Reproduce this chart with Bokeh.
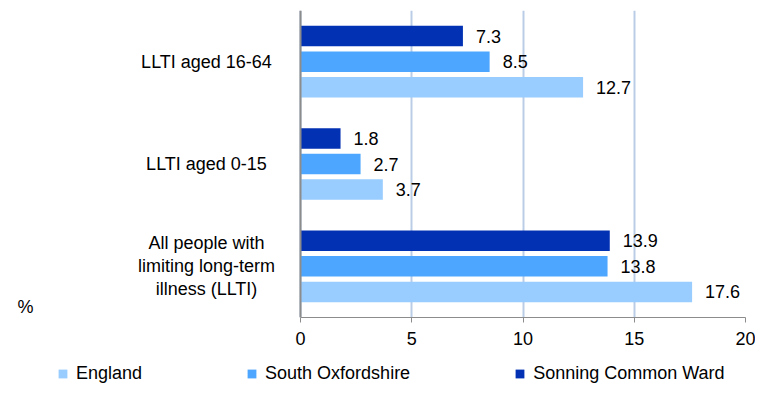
from bokeh.plotting import figure
from bokeh.layouts import column
from bokeh.models import (ColumnDataSource, Range1d, FactorRange, FixedTicker, Legend, LegendItem,
                          Span, Label)
from bokeh.transform import dodge
from bokeh.core.properties import value
from bokeh.embed import file_html
from bokeh.resources import INLINE

categories = ["All people with\nlimiting long-term\nillness (LLTI)", "LLTI aged 0-15", "LLTI aged 16-64"]
england = [17.6, 3.7, 12.7]
south_oxfordshire = [13.8, 2.7, 8.5]
sonning_common = [13.9, 1.8, 7.3]
series_names = ["England", "South Oxfordshire", "Sonning Common Ward"]
colors = ["#99CCFF", "#4DA6FF", "#0231B3"]
x_ticks = [0, 5, 10, 15, 20]
unit_label = "%"

FONT = "Liberation Sans"
W = 755
AXIS_PX = 300          # pixel position of the value axis (x = 0)
FRAME_RIGHT = 745      # pixel position of x = 20
x_max = x_ticks[-1]
x_min = -x_max * AXIS_PX / (FRAME_RIGHT - AXIS_PX)   # room on the left for category labels

src = ColumnDataSource(dict(
    cat=categories,
    england=england,
    so=south_oxfordshire,
    sc=sonning_common,
    england_lbl=[f"{v:.1f}" for v in england],
    so_lbl=[f"{v:.1f}" for v in south_oxfordshire],
    sc_lbl=[f"{v:.1f}" for v in sonning_common],
))

p = figure(width=W, height=352, output_backend="svg", toolbar_location=None,
           x_range=Range1d(x_min, x_max), y_range=FactorRange(factors=categories, range_padding=0),
           y_axis_location=None,
           min_border_left=0, min_border_right=W - FRAME_RIGHT, min_border_top=10, min_border_bottom=35)
p.outline_line_color = None
p.background_fill_color = "white"

offsets = [-0.25, 0.0, 0.25]
fields = ["england", "so", "sc"]
for f, off, c in zip(fields, offsets, colors):
    p.hbar(y=dodge("cat", off, range=p.y_range), right=f, left=0, height=0.2,
           source=src, fill_color=c, line_color=None)
    p.text(x=f, y=dodge("cat", off, range=p.y_range), text=f + "_lbl", source=src,
           x_offset=13, text_baseline="middle", text_align="left",
           text_font=value(FONT), text_font_size="18px", text_color="#000000")

# category labels, centred to the left of the value axis
p.text(x=0, y="cat", text="cat", source=src, x_offset=-94,
       text_align="center", text_baseline="middle", text_line_height=1.15,
       text_font=value(FONT), text_font_size="18px", text_color="#000000")

# x axis
p.xaxis.ticker = FixedTicker(ticks=x_ticks)
p.xaxis.bounds = (x_ticks[0], x_ticks[-1])
p.xaxis.minor_tick_line_color = None
p.xaxis.major_tick_in = 0
p.xaxis.major_tick_out = 5
p.xaxis.axis_line_color = "#8C8C8C"
p.xaxis.major_tick_line_color = "#8C8C8C"
p.xaxis.major_label_text_font = FONT
p.xaxis.major_label_text_font_size = "18px"
p.xaxis.major_label_text_color = "#000000"
p.xaxis.major_label_standoff = 9

p.ygrid.grid_line_color = None
p.xgrid.grid_line_color = "#BBCDE6"
p.xgrid.grid_line_width = 2

# vertical category axis line at x = 0
p.add_layout(Span(location=0, dimension="height", line_color="#8C8C8C", line_width=2))

# unit label
p.add_layout(Label(x=25, y=1, x_units="screen", y_units="screen", text=unit_label,
                   text_font=FONT, text_font_size="18px", text_align="center",
                   text_baseline="bottom", text_color="#000000"))

# legend strip (its zero-height bars lie outside the visible range; only the legend shows)
q = figure(width=W, height=32, output_backend="svg", toolbar_location=None,
           x_range=Range1d(2 * x_max, 3 * x_max), y_range=FactorRange(factors=categories),
           x_axis_location=None, y_axis_location=None,
           min_border_left=0, min_border_right=0, min_border_top=0, min_border_bottom=0)
q.outline_line_color = None
q.xgrid.visible = False
q.ygrid.visible = False
legend_renderers = [q.hbar(y="cat", right=f, left=0, height=0, source=src,
                           fill_color=c, line_color=None) for f, c in zip(fields, colors)]
legend = Legend(items=[LegendItem(label=n, renderers=[r]) for n, r in zip(series_names, legend_renderers)],
                orientation="horizontal", location=(57, 0),
                glyph_width=11, glyph_height=11, label_standoff=8, spacing=104,
                padding=0, margin=0, border_line_color=None, background_fill_alpha=0,
                label_text_font=FONT, label_text_font_size="18px", label_text_color="#000000")
q.add_layout(legend, "center")

layout = column(p, q, spacing=0)
open("out.html", "w").write(file_html(layout, INLINE))
